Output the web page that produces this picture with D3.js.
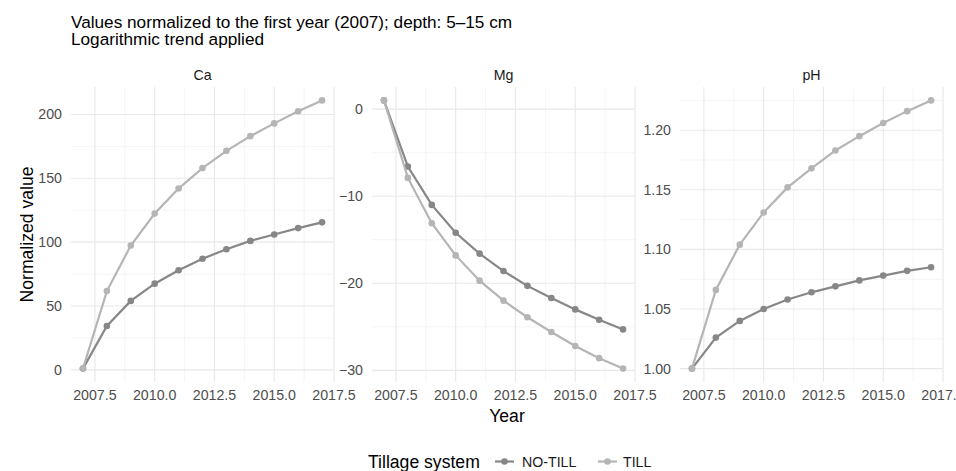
<!DOCTYPE html>
<html>
<head>
<meta charset="utf-8">
<script src="https://cdn.jsdelivr.net/npm/d3@7"></script>
<style>
  body { margin: 0; background: white; }
  text { font-family: "Liberation Sans", Arial, sans-serif; }
</style>
</head>
<body>
<div id="main_content"></div>
<script>
var width = 956, height = 471;

// data
var years = [2007, 2008, 2009, 2010, 2011, 2012, 2013, 2014, 2015, 2016, 2017];
var systems = ['NO-TILL', 'TILL'];
var elements = ['Ca', 'Mg', 'pH'];

var caNoTill = [1, 34.4, 54, 67.5, 78, 87, 94.5, 101, 106, 111, 115.5];
var caTill = [1, 61.7, 97.3, 122.4, 142, 158, 171.5, 183, 193, 202.5, 211];
var mgNoTill = [1, -6.6, -11, -14.2, -16.6, -18.6, -20.3, -21.7, -23, -24.2, -25.3];
var mgTill = [1, -7.9, -13.1, -16.8, -19.7, -22, -23.9, -25.6, -27.2, -28.6, -29.8];
var phNoTill = [1, 1.026, 1.040, 1.050, 1.058, 1.064, 1.069, 1.074, 1.078, 1.082, 1.085];
var phTill = [1, 1.066, 1.104, 1.131, 1.152, 1.168, 1.183, 1.195, 1.206, 1.216, 1.225];

var xTicks = [2007.5, 2010, 2012.5, 2015, 2017.5];
var caTicks = [0, 50, 100, 150, 200];
var mgTicks = [0, -10, -20, -30];
var phTicks = [1.00, 1.05, 1.10, 1.15, 1.20];

var series = {
  Ca: { 'NO-TILL': caNoTill, 'TILL': caTill, ticks: caTicks, fmt: d3.format('d') },
  Mg: { 'NO-TILL': mgNoTill, 'TILL': mgTill, ticks: mgTicks, fmt: function(d) { return d < 0 ? '\u2212' + Math.abs(d) : d; } },
  pH: { 'NO-TILL': phNoTill, 'TILL': phTill, ticks: phTicks, fmt: d3.format('.2f') }
};

var colors = { 'NO-TILL': '#878787', 'TILL': '#b5b5b5' };
var panelX = [[71, 334], [372, 635], [680, 943]];
var plotTop = 87, plotBottom = 382;

var svg = d3.select('#main_content').append('svg')
  .attr('width', width)
  .attr('height', height)
  .style('background', 'white');

elements.forEach(function(el, i) {
  var s = series[el];
  var x = d3.scaleLinear().domain([2006.5, 2017.5]).range(panelX[i]);
  var all = s['NO-TILL'].concat(s['TILL']);
  var lo = d3.min(all), hi = d3.max(all), pad = (hi - lo) * 0.05;
  var y = d3.scaleLinear().domain([lo - pad, hi + pad]).range([plotBottom, plotTop]);

  var g = svg.append('g');

  // minor grid at the half steps
  var xMinor = d3.range(2008.75, 2017.5, 2.5);
  var half = Math.abs(s.ticks[1] - s.ticks[0]) / 2;
  var yMinor = d3.range(Math.ceil((lo - pad) / half), Math.floor((hi + pad) / half) + 1)
    .filter(function(k) { return Math.abs(k % 2) === 1; })
    .map(function(k) { return k * half; });

  g.selectAll('.xminor').data(xMinor).enter().append('line')
    .attr('x1', x).attr('x2', x).attr('y1', plotTop).attr('y2', plotBottom)
    .attr('stroke', '#f1f1f1').attr('stroke-width', 0.8);
  g.selectAll('.yminor').data(yMinor).enter().append('line')
    .attr('x1', panelX[i][0]).attr('x2', panelX[i][1])
    .attr('y1', y).attr('y2', y)
    .attr('stroke', '#f1f1f1').attr('stroke-width', 0.8);

  // major grid
  g.selectAll('.xmajor').data(xTicks).enter().append('line')
    .attr('x1', x).attr('x2', x).attr('y1', plotTop).attr('y2', plotBottom)
    .attr('stroke', '#e8e8e8').attr('stroke-width', 1.1);
  g.selectAll('.ymajor').data(s.ticks).enter().append('line')
    .attr('x1', panelX[i][0]).attr('x2', panelX[i][1])
    .attr('y1', y).attr('y2', y)
    .attr('stroke', '#e8e8e8').attr('stroke-width', 1.1);

  // tick labels
  g.selectAll('.xlab').data(xTicks).enter().append('text')
    .attr('x', x).attr('y', 400)
    .attr('text-anchor', 'middle')
    .attr('font-size', 14.2).attr('fill', '#4d4d4d')
    .text(d3.format('.1f'));
  g.selectAll('.ylab').data(s.ticks).enter().append('text')
    .attr('x', panelX[i][0] - 9).attr('y', function(d) { return y(d) + 5; })
    .attr('text-anchor', 'end')
    .attr('font-size', 14.2).attr('fill', '#4d4d4d')
    .text(s.fmt);

  // strip
  g.append('text')
    .attr('x', (panelX[i][0] + panelX[i][1]) / 2).attr('y', 80)
    .attr('text-anchor', 'middle')
    .attr('font-size', 14.2).attr('fill', '#1a1a1a')
    .text(el);

  var line = d3.line()
    .x(function(d, j) { return x(years[j]); })
    .y(function(d) { return y(d); });

  systems.forEach(function(sys) {
    g.append('path')
      .datum(s[sys])
      .attr('d', line)
      .attr('fill', 'none')
      .attr('stroke', colors[sys])
      .attr('stroke-width', 2.2);
    g.selectAll('.pt' + sys).data(s[sys]).enter().append('circle')
      .attr('cx', function(d, j) { return x(years[j]); })
      .attr('cy', y)
      .attr('r', 3.3)
      .attr('fill', colors[sys]);
  });
});

// titles
svg.append('text').attr('x', 71).attr('y', 28)
  .attr('font-size', 17.2).attr('fill', '#000')
  .text('Values normalized to the first year (2007); depth: 5\u201315 cm');
svg.append('text').attr('x', 71).attr('y', 44.8)
  .attr('font-size', 17.2).attr('fill', '#000')
  .text('Logarithmic trend applied');

svg.append('text').attr('x', 507).attr('y', 421.5)
  .attr('text-anchor', 'middle').attr('font-size', 17.6)
  .text('Year');
svg.append('text')
  .attr('transform', 'translate(33,' + (plotTop + plotBottom) / 2 + ') rotate(-90)')
  .attr('text-anchor', 'middle').attr('font-size', 17.6)
  .text('Normalized value');

// legend
var lg = svg.append('g');
lg.append('text').attr('x', 368).attr('y', 467.5)
  .attr('font-size', 17.6).text('Tillage system');
var keyX = [495, 598], labX = [522, 623];
systems.forEach(function(sys, k) {
  lg.append('line')
    .attr('x1', keyX[k]).attr('x2', keyX[k] + 19)
    .attr('y1', 461.5).attr('y2', 461.5)
    .attr('stroke', colors[sys]).attr('stroke-width', 2.2);
  lg.append('circle')
    .attr('cx', keyX[k] + 9.5).attr('cy', 461.5).attr('r', 3.3)
    .attr('fill', colors[sys]);
  lg.append('text').attr('x', labX[k]).attr('y', 467)
    .attr('font-size', 14.2).attr('fill', '#1a1a1a')
    .text(sys);
});
</script>
</body>
</html>
